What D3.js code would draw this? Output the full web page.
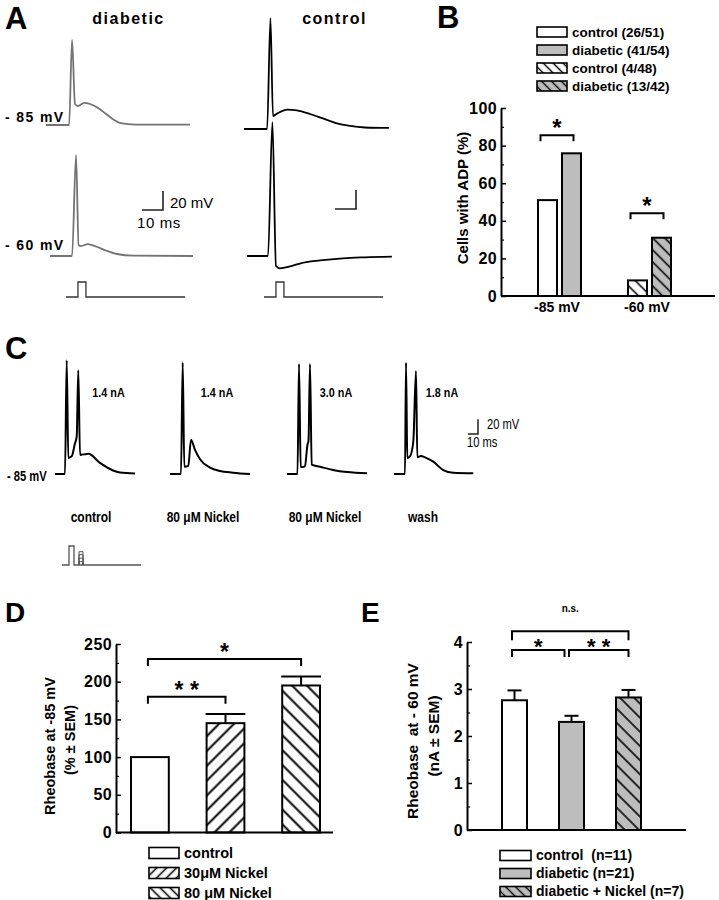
<!DOCTYPE html>
<html>
<head>
<meta charset="utf-8">
<script src="https://cdn.jsdelivr.net/npm/d3@7/dist/d3.min.js"></script>
<style>
html,body{margin:0;padding:0;background:#fff;}
svg{display:block;}
text{font-family:"Liberation Sans",Arial,Helvetica,sans-serif;fill:#000;white-space:pre;}
</style>
</head>
<body>
<svg id="fig" width="719" height="900" xmlns="http://www.w3.org/2000/svg"></svg>
<script>
// ================= DATA =================
// Panel A – membrane potential traces, [time (ms), potential (mV)]
const traceDiabetic85 = [[0,-85],[11,-85],[12.4,4.5],[13.8,-62.9],[15.2,-65],[18.1,-61.8],[21,-62.9],[24.8,-67.1],[28.6,-73.4],[32.4,-79.7],[36.2,-83.4],[42.4,-84.5],[68.6,-84.5]];
const traceControl85  = [[0,-85],[11,-85],[12.6,31.8],[13.8,-71.3],[16.2,-68.2],[20.5,-64.5],[25.2,-65.5],[31.4,-69.2],[37.6,-73.9],[43.8,-78.7],[50.5,-81.8],[57.6,-83.4],[69,-83.9]];
const traceDiabetic60 = [[0,-60],[10.5,-60],[12.4,46.3],[13.6,-48.4],[14.8,-49.5],[18.1,-47.4],[21.9,-50],[26.7,-54.2],[31.9,-57.9],[39.5,-59.7],[68.1,-60]];
const traceControl60  = [[0,-60],[10,-60],[12.1,81],[13.8,-70.5],[15.7,-73],[20.5,-71],[25.2,-67.9],[34.8,-64.7],[45.7,-62.4],[56.2,-61.4],[69,-60.7]];
// current command, [time (ms), relative amplitude]
const stimulusA = [[0,0],[5.7,0],[5.7,1],[9.5,1],[9.5,0],[56.7,0]];
const titlesA = ["diabetic","control"];
const holdingA = ["- 85 mV","- 60 mV"];

// Panel B – % cells with ADP
const groupsB = ["-85 mV","-60 mV"];
const seriesB = ["control","diabetic"];
const controlB = [51.0, 8.3];
const diabeticB = [75.9, 31.0];
const legendB = ["control (26/51)","diabetic (41/54)","control (4/48)","diabetic (13/42)"];
const ticksB = [0,20,40,60,80,100];
const minorTicksB = [10,30,50,70,90];
const sigB = [{group:"-85 mV", level:85.5, label:"*"},{group:"-60 mV", level:44, label:"*"}];

// Panel C – traces at -85 mV, [time (ms), potential (mV)]
const traceCControl = [[0,-85],[10,-85],[11.7,69.8],[13.3,-63.1],[16.7,-61],[20,-43.2],[21.7,-34.3],[23.3,56.1],[25,-59],[29,-58.3],[33.3,-57.6],[45,-69.9],[58,-80.2],[65,-82.9],[80,-84.3]];
const traceCNickelA = [[0,-85],[11,-85],[12.7,66.6],[14.3,-75.1],[18.3,-74],[21,-38.3],[25,-52.3],[30,-65],[40,-76.3],[50,-81],[63,-83.2],[80,-85]];
const traceCNickelB = [[0,-85],[10.5,-85],[12,64.5],[13.7,-75.1],[15.5,-75.5],[18,-74],[20.5,-45],[21.5,-40],[23,64.5],[24.7,-72.3],[33,-75.1],[46,-79.5],[60,-82.4],[80,-84.1]];
const traceCWash = [[0,-85],[11,-85],[12,66.5],[13.3,-63.1],[16,-61],[19.3,-40.8],[22,55.1],[23.3,-62.3],[27,-60.5],[31,-62.3],[39.3,-68.2],[49.3,-79.7],[59.3,-83.3],[79.3,-84.1]];
const currentsC = ["1.4 nA","1.4 nA","3.0 nA","1.8 nA"];
const conditionsC = ["control","80 μM Nickel","80 μM Nickel","wash"];
const holdingC = "- 85 mV";
const stimulusC = [[0,0],[7,0],[7,1],[12,1],[12,0],[79,0]];
const stepLevelsC = [0.18,0.36,0.54,0.7];
const stepWindowC = [17,21];

// Panel D – rheobase at -85 mV (% ± SEM)
const categoriesD = ["control","30μM Nickel","80 μM Nickel"];
const valuesD = [100,145,195];
const semD = [0,12,12];
const ticksD = [0,50,100,150,200,250];
const minorTicksD = [25,75,125,175,225];
const sigD = [{from:0,to:1,level:180,label:"* *"},{from:0,to:2,level:230,label:"*"}];

// Panel E – rheobase at -60 mV (nA ± SEM)
const categoriesE = ["control  (n=11)","diabetic (n=21)","diabetic + Nickel (n=7)"];
const valuesE = [2.76,2.30,2.82];
const semE = [0.21,0.13,0.16];
const ticksE = [0,1,2,3,4];
const minorTicksE = [0.5,1.5,2.5,3.5];
const sigE = [{from:0,to:1,level:3.83,label:"*"},{from:1,to:2,level:3.83,label:"* *"},{from:0,to:2,level:4.23,label:"n.s."}];

// ================= DRAWING =================
const svg = d3.select("#fig");
const GRAY = "#bdbdbd", DIAB = "#737373";
const defs = svg.append("defs");
function hatch(id, angle, gap, bg, sw){
  const p = defs.append("pattern").attr("id",id).attr("patternUnits","userSpaceOnUse")
    .attr("width",gap).attr("height",gap).attr("patternTransform",`rotate(${angle})`);
  p.append("rect").attr("width",gap).attr("height",gap).attr("fill",bg);
  p.append("line").attr("x1",gap/2).attr("x2",gap/2).attr("y1",-1).attr("y2",gap+1)
    .attr("stroke","#000").attr("stroke-width",sw);
}
hatch("hBw",-45,8.5,"#fff",1.6);
hatch("hBg",-45,8.5,GRAY,1.6);
hatch("hDf",45,10.5,"#fff",2);
hatch("hDb",-45,10.5,"#fff",2);
hatch("hEg",-45,10,GRAY,1.6);
hatch("hLw",-45,7,"#fff",1.4);
hatch("hLg",-45,7,GRAY,1.4);
hatch("hLf",45,7,"#fff",1.6);
hatch("hLb",-45,7,"#fff",1.6);

function txt(g, s, x, y, size, weight, anchor){
  return g.append("text").attr("x",x).attr("y",y).attr("font-size",size)
    .attr("font-weight",weight||"bold").attr("text-anchor",anchor||"start").text(s);
}
function narrow(g, s, x, y, size, weight, anchor){
  return g.append("text").attr("transform",`translate(${x},${y}) scale(0.8,1)`)
    .attr("font-size",size).attr("font-weight",weight||"bold").attr("text-anchor",anchor||"start").text(s);
}
function vlabel(g, s, cx, cy, size){
  return g.append("text").attr("transform",`translate(${cx},${cy}) rotate(-90)`)
    .attr("text-anchor","middle").attr("dy","0.36em").attr("font-size",size).attr("font-weight","bold").text(s);
}
function panelLetter(s,x,y,size){ txt(svg,s,x,y,size,"bold"); }

// ---------- Panel A ----------
const gA = svg.append("g");
panelLetter("A",5,29,31);
const xA = d3.scaleLinear().domain([0,10]).range([0,21]);
const yA = d3.scaleLinear().domain([0,20]).range([0,-19]);
const yStimA = d3.scaleLinear().domain([0,1]).range([0,-15]);
[[titlesA[0],128.5],[titlesA[1],334.5]].forEach(([s,x])=>{
  txt(gA,s,x,24,16,"bold","middle").attr("letter-spacing","1.5px");
});
const tracesA = [
  {data:traceDiabetic85, V0:-85, x:46,  y:125, color:DIAB},
  {data:traceControl85,  V0:-85, x:244, y:129, color:"#000"},
  {data:traceDiabetic60, V0:-60, x:50,  y:256, color:DIAB},
  {data:traceControl60,  V0:-60, x:247, y:256, color:"#000"}
];
tracesA.forEach(t=>{
  const line = d3.line().x(d=>xA(d[0])).y(d=>yA(d[1]-t.V0)).curve(d3.curveMonotoneX);
  gA.append("path").attr("transform",`translate(${t.x},${t.y})`).attr("d",line(t.data))
    .attr("fill","none").attr("stroke",t.color).attr("stroke-width",1.8).attr("stroke-linejoin","round");
});
txt(gA,holdingA[0],5,121.5,14,"bold").attr("letter-spacing","1.4px");
txt(gA,holdingA[1],5,249.5,14,"bold").attr("letter-spacing","1.4px");
const stimLineA = d3.line().x(d=>xA(d[0])).y(d=>yStimA(d[1]));
[[66,297],[264,297]].forEach(([x,y])=>{
  gA.append("path").attr("transform",`translate(${x},${y})`).attr("d",stimLineA(stimulusA))
    .attr("fill","none").attr("stroke","#333").attr("stroke-width",1.3);
});
function scaleBar(g, cx, cy, xs, ys, dx, dy, sw){
  g.append("path").attr("d",`M${cx - (xs(dx)-xs(0))},${cy}H${cx}V${cy + (ys(dy)-ys(0))}`)
    .attr("fill","none").attr("stroke","#222").attr("stroke-width",sw);
}
scaleBar(gA,163,210,xA,yA,10,20,1.6);
scaleBar(gA,356,209,xA,yA,10,20,1.6);
txt(gA,"20 mV",170,208,15,"normal");
txt(gA,"10 ms",137,228,15,"normal").attr("letter-spacing","0.6px");

// ---------- Panel B ----------
const gB = svg.append("g");
panelLetter("B",437,28,31);
const yB = d3.scaleLinear().domain([0,100]).range([296,108]);
const xB = d3.scaleBand().domain(groupsB).range([514,694]);
const xBi = d3.scaleBand().domain(seriesB).range([24,67]).paddingInner(5/24);
const fillsB = [["#fff",GRAY],["url(#hBw)","url(#hBg)"]];
groupsB.forEach((g,i)=>{
  [controlB[i],diabeticB[i]].forEach((v,j)=>{
    gB.append("rect").attr("x",xB(g)+xBi(seriesB[j])).attr("y",yB(v))
      .attr("width",xBi.bandwidth()).attr("height",yB(0)-yB(v))
      .attr("fill",fillsB[i][j]).attr("stroke","#000").attr("stroke-width",2);
  });
});
function yAxis(g, scale, x, majors, minors, size){
  const ga = g.append("g").attr("transform",`translate(${x},0)`)
    .call(d3.axisLeft(scale).tickValues(majors).tickSize(-5).tickSizeOuter(0).tickPadding(4).tickFormat(d3.format("d")));
  ga.select(".domain").attr("stroke-width",2);
  ga.selectAll(".tick line").attr("stroke-width",1.5);
  ga.selectAll("text").attr("font-size",size).attr("font-weight","bold")
    .attr("font-family","'Liberation Sans',Arial,sans-serif").attr("letter-spacing","0.4px");
  const gm = g.append("g").attr("transform",`translate(${x},0)`)
    .call(d3.axisLeft(scale).tickValues(minors).tickSize(-3).tickFormat(""));
  gm.select(".domain").remove();
  gm.selectAll(".tick line").attr("stroke-width",1.2);
}
yAxis(gB,yB,501,ticksB,minorTicksB,16);
gB.append("line").attr("x1",501).attr("x2",715).attr("y1",yB(0)).attr("y2",yB(0)).attr("stroke","#000").attr("stroke-width",2);
groupsB.forEach(g=>{ txt(gB,g,xB(g)+xB.bandwidth()/2-2,312,14,"bold","middle"); });
vlabel(gB,"Cells with ADP (%)",463,198,15);
function bracket(g,x1,x2,y,tip,label,size,dy){
  g.append("path").attr("d",`M${x1},${y+tip}V${y}H${x2}V${y+tip}`)
    .attr("fill","none").attr("stroke","#000").attr("stroke-width",2);
  txt(g,label,(x1+x2)/2,y+dy,size,"bold","middle");
}
sigB.forEach(s=>{
  const c1 = xB(s.group)+xBi("control")+xBi.bandwidth()/2;
  const c2 = xB(s.group)+xBi("diabetic")+xBi.bandwidth()/2;
  bracket(gB,c1-7,c2+2,yB(s.level),6,s.label,24,1);
});
function legend(g, labels, fills, x, y0, step, w, h, size){
  labels.forEach((s,i)=>{
    const cy = y0+i*step;
    g.append("rect").attr("x",x).attr("y",cy-h/2).attr("width",w).attr("height",h)
      .attr("fill",fills[i]).attr("stroke","#000").attr("stroke-width",1.6);
    g.append("text").attr("x",x+w+5).attr("y",cy).attr("dy","0.34em").attr("font-size",size)
      .attr("font-weight","bold").text(s);
  });
}
legend(gB,legendB,["#fff",GRAY,"url(#hLw)","url(#hLg)"],537,32,18,30,10,13.5);

// ---------- Panel C ----------
const gC = svg.append("g");
panelLetter("C",5,359,31);
const xC = d3.scaleLinear().domain([0,10]).range([0,10]);
const yC = d3.scaleLinear().domain([0,20]).range([0,-14.7]);
const tracesC = [traceCControl,traceCNickelA,traceCNickelB,traceCWash];
const originsC = [55,170,287,394];
const lineC = d3.line().x(d=>xC(d[0])).y(d=>yC(d[1]+85)).curve(d3.curveMonotoneX);
tracesC.forEach((t,i)=>{
  gC.append("path").attr("transform",`translate(${originsC[i]},474)`).attr("d",lineC(t))
    .attr("fill","none").attr("stroke","#000").attr("stroke-width",2).attr("stroke-linejoin","round");
});
const currentPos = [108.5,217,336,442];
currentsC.forEach((s,i)=>narrow(gC,s,currentPos[i],397,13.5,"bold","middle"));
const condPos = [91,203,325,423];
conditionsC.forEach((s,i)=>narrow(gC,s,condPos[i],522,15,"bold","middle"));
narrow(gC,holdingC,7,480.5,14,"bold");
scaleBar(gC,478,434,xC,yC,10,20,1.5);
narrow(gC,"20 mV",487,429,14,"normal");
narrow(gC,"10 ms",467,447,14,"normal");
const yStimC = d3.scaleLinear().domain([0,1]).range([0,-19]);
const stimLineC = d3.line().x(d=>xC(d[0])).y(d=>yStimC(d[1]));
const gS = gC.append("g").attr("transform","translate(62,565)");
gS.append("path").attr("d",stimLineC(stimulusC)).attr("fill","none").attr("stroke","#555").attr("stroke-width",1.3);
stepLevelsC.forEach(l=>{
  gS.append("path").attr("d",`M${xC(stepWindowC[0])},0V${yStimC(l)}H${xC(stepWindowC[1])}V0`)
    .attr("fill","none").attr("stroke","#555").attr("stroke-width",1);
});

// ---------- Panel D ----------
const gD = svg.append("g");
panelLetter("D",5,622,28);
const yD = d3.scaleLinear().domain([0,250]).range([832.5,644]);
const xD = d3.scaleBand().domain(categoriesD).range([131,320]).paddingInner(0.5);
const fillsD = ["#fff","url(#hDf)","url(#hDb)"];
categoriesD.forEach((c,i)=>{
  const x = xD(c), w = xD.bandwidth(), cx = x+w/2;
  if (semD[i]>0){
    gD.append("line").attr("x1",cx).attr("x2",cx).attr("y1",yD(valuesD[i])).attr("y2",yD(valuesD[i]+semD[i]))
      .attr("stroke","#000").attr("stroke-width",2);
    gD.append("line").attr("x1",x-1).attr("x2",x+w+1).attr("y1",yD(valuesD[i]+semD[i])).attr("y2",yD(valuesD[i]+semD[i]))
      .attr("stroke","#000").attr("stroke-width",2);
  }
  gD.append("rect").attr("x",x).attr("y",yD(valuesD[i])).attr("width",w).attr("height",yD(0)-yD(valuesD[i]))
    .attr("fill",fillsD[i]).attr("stroke","#000").attr("stroke-width",2);
});
yAxis(gD,yD,116,ticksD,minorTicksD,16);
gD.append("line").attr("x1",116).attr("x2",333).attr("y1",yD(0)).attr("y2",yD(0)).attr("stroke","#000").attr("stroke-width",2);
sigD.forEach(s=>{
  const c1 = xD(categoriesD[s.from])+xD.bandwidth()/2, c2 = xD(categoriesD[s.to])+xD.bandwidth()/2;
  bracket(gD,c1-2,c2,yD(s.level),7,s.label,23,1);
});
vlabel(gD,"Rheobase at -85 mV",50,746,14.5);
vlabel(gD,"(% ± SEM)",70,740,14.5);
legend(gD,categoriesD,["#fff","url(#hLf)","url(#hLb)"],149,853,20,30,11,14.5);

// ---------- Panel E ----------
const gE = svg.append("g");
panelLetter("E",361,622,28);
const yE = d3.scaleLinear().domain([0,4]).range([830,642]);
const xE = d3.scaleBand().domain(categoriesE).range([502,641]).paddingInner(0.5614);
const fillsE = ["#fff",GRAY,"url(#hEg)"];
categoriesE.forEach((c,i)=>{
  const x = xE(c), w = xE.bandwidth(), cx = x+w/2;
  const top = yE(valuesE[i]+semE[i]);
  gE.append("line").attr("x1",cx).attr("x2",cx).attr("y1",yE(valuesE[i])).attr("y2",top).attr("stroke","#000").attr("stroke-width",2);
  gE.append("line").attr("x1",cx-7).attr("x2",cx+7).attr("y1",top).attr("y2",top).attr("stroke","#000").attr("stroke-width",2);
  gE.append("rect").attr("x",x).attr("y",yE(valuesE[i])).attr("width",w).attr("height",yE(0)-yE(valuesE[i]))
    .attr("fill",fillsE[i]).attr("stroke","#000").attr("stroke-width",2);
});
yAxis(gE,yE,467,ticksE,minorTicksE,16);
gE.append("line").attr("x1",467).attr("x2",686).attr("y1",yE(0)).attr("y2",yE(0)).attr("stroke","#000").attr("stroke-width",2);
sigE.forEach(s=>{
  const cx = k => xE(categoriesE[k])+xE.bandwidth()/2;
  let x1 = cx(s.from)-2.5, x2 = cx(s.to);
  if (sigE.some(o=>o!==s && o.level===s.level && o.from===s.to)) x2 -= 7;
  if (s.label==="n.s.") bracket(gE,x1,x2,yE(s.level),9,s.label,10,-19);
  else bracket(gE,x1,x2,yE(s.level),7,s.label,22,4);
});
vlabel(gE,"Rheobase  at - 60 mV",412,741,15.5);
vlabel(gE,"(nA ± SEM)",433,736,15.5);
legend(gE,categoriesE,["#fff",GRAY,"url(#hLg)"],500,855.5,18,31,10,14);
</script>
</body>
</html>
